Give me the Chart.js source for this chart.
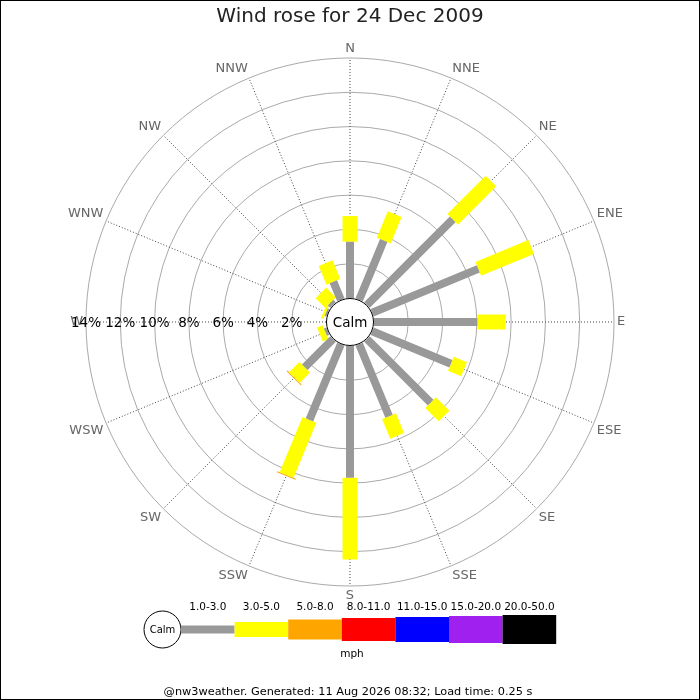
<!DOCTYPE html>
<html>
<head>
<meta charset="utf-8">
<title>Wind rose</title>
<script src="https://cdn.jsdelivr.net/npm/chart.js@4"></script>
<style>
  body { margin: 0; background: #fff; }
  canvas { display: block; }
</style>
</head>
<body>
<canvas id="rose" width="700" height="700"></canvas>
<script>
// wind directions, clockwise from north
const directions = ['N', 'NNE', 'NE', 'ENE', 'E', 'ESE', 'SE', 'SSE', 'S', 'SSW', 'SW', 'WSW', 'W', 'WNW', 'NW', 'NNW'];
const speedBands = ['1.0-3.0', '3.0-5.0', '5.0-8.0', '8.0-11.0', '11.0-15.0', '15.0-20.0', '20.0-50.0'];

// % of time per direction in each speed band (mph)
const pct1to3   = [3.28, 3.74, 7.07, 6.70, 6.03, 4.97, 5.25, 4.55, 7.68, 4.78, 2.33, 0.15, 0, 0.10, 0.20, 1.14];
const pct3to5   = [1.50, 1.67, 3.16, 3.34, 1.65, 0.83, 1.11, 1.24, 4.77, 3.48, 0.85, 0.35, 0, 0.15, 0.80, 1.17];
const pct5to8   = [0, 0, 0, 0, 0, 0, 0, 0, 0, 0.06, 0.06, 0, 0, 0, 0, 0];
const pct8to11  = [0, 0, 0, 0, 0, 0, 0, 0, 0, 0, 0, 0, 0, 0, 0, 0];
const pct11to15 = [0, 0, 0, 0, 0, 0, 0, 0, 0, 0, 0, 0, 0, 0, 0, 0];
const pct15to20 = [0, 0, 0, 0, 0, 0, 0, 0, 0, 0, 0, 0, 0, 0, 0, 0];
const pct20to50 = [0, 0, 0, 0, 0, 0, 0, 0, 0, 0, 0, 0, 0, 0, 0, 0];

const ringTicks = [2, 4, 6, 8, 10, 12, 14];

const bandColors = ['#999999', '#ffff00', '#ffa500', '#ff0000', '#0000ff', '#a020f0', '#000000'];
const bandWidths = [8, 15, 20, 23, 25, 27, 29];

const CALM = 1.4; // calm circle radius, in % units
const FONT = '"DejaVu Sans", sans-serif';

const bands = [pct1to3, pct3to5, pct5to8, pct8to11, pct11to15, pct15to20, pct20to50];
const cum = directions.map(() => CALM);

// one short line dataset per direction and band
const datasets = [];
bands.forEach((vals, b) => {
    directions.forEach((d, i) => {
        const a = i * Math.PI / 8;
        const r0 = cum[i];
        const r1 = r0 + vals[i];
        cum[i] = r1;
        if (vals[i] <= 0) return;
        datasets.push({
            label: d + ' ' + speedBands[b],
            data: [
                {x: r0 * Math.sin(a), y: r0 * Math.cos(a)},
                {x: r1 * Math.sin(a), y: r1 * Math.cos(a)}
            ],
            showLine: true,
            tension: 0.2, // avoids the fast-path pixel snapping on very short segments
            borderColor: bandColors[b],
            borderWidth: bandWidths[b],
            borderCapStyle: 'butt',
            pointRadius: 0,
            clip: false
        });
    });
});

const roseDecor = {
    id: 'roseDecor',
    beforeDatasetsDraw(chart) {
        const ctx = chart.ctx;
        const xs = chart.scales.x, ys = chart.scales.y;
        const cx = xs.getPixelForValue(0), cy = ys.getPixelForValue(0);
        const rad = u => xs.getPixelForValue(u) - cx;

        ctx.save();
        ctx.fillStyle = '#fff';
        ctx.fillRect(0, 0, chart.width, chart.height);

        // rings
        ctx.strokeStyle = '#aaaaaa';
        ctx.lineWidth = 1;
        ringTicks.forEach(t => {
            ctx.beginPath();
            ctx.arc(cx, cy, rad(CALM + t), 0, Math.PI * 2);
            ctx.stroke();
        });

        // spokes
        const outer = rad(CALM + ringTicks[ringTicks.length - 1]);
        ctx.strokeStyle = '#444';
        ctx.setLineDash([1, 2]);
        directions.forEach((d, i) => {
            const a = i * Math.PI / 8;
            ctx.beginPath();
            ctx.moveTo(cx + rad(CALM) * Math.sin(a), cy - rad(CALM) * Math.cos(a));
            ctx.lineTo(cx + outer * Math.sin(a), cy - outer * Math.cos(a));
            ctx.stroke();
        });
        ctx.setLineDash([]);

        // direction labels
        ctx.font = '13px ' + FONT;
        ctx.fillStyle = '#666';
        directions.forEach((d, i) => {
            const a = i * Math.PI / 8;
            const s = Math.sin(a), c = Math.cos(a);
            const r = outer + 3;
            ctx.textAlign = s > 0.01 ? 'left' : (s < -0.01 ? 'right' : 'center');
            ctx.textBaseline = c > 0.01 ? 'bottom' : (c < -0.01 ? 'top' : 'middle');
            ctx.fillText(d, cx + r * s, cy - r * c);
        });
        ctx.restore();
    },
    afterDatasetsDraw(chart) {
        const ctx = chart.ctx;
        const xs = chart.scales.x, ys = chart.scales.y;
        const cx = xs.getPixelForValue(0), cy = ys.getPixelForValue(0);
        const rad = u => xs.getPixelForValue(u) - cx;

        ctx.save();
        // ring labels along the west axis
        ctx.font = '13.5px ' + FONT;
        ctx.fillStyle = '#000';
        ctx.textAlign = 'center';
        ctx.textBaseline = 'middle';
        ringTicks.forEach(t => ctx.fillText(t + '%', cx - rad(CALM + t), cy + 1));

        // calm circle
        ctx.beginPath();
        ctx.arc(cx, cy, rad(CALM) - 0.5, 0, Math.PI * 2);
        ctx.fillStyle = '#fff';
        ctx.fill();
        ctx.strokeStyle = '#000';
        ctx.lineWidth = 1;
        ctx.stroke();
        ctx.fillStyle = '#000';
        ctx.fillText('Calm', cx, cy + 1);

        // title
        ctx.font = '20px ' + FONT;
        ctx.fillStyle = '#222';
        ctx.fillText('Wind rose for 24 Dec 2009', 350, 17);

        // speed legend
        const ly = 629.5;
        ctx.beginPath();
        ctx.arc(162.5, ly, 18.5, 0, Math.PI * 2);
        ctx.fillStyle = '#fff';
        ctx.fill();
        ctx.stroke();
        ctx.fillStyle = '#000';
        ctx.font = '10px ' + FONT;
        ctx.fillText('Calm', 162.5, ly + 1);
        ctx.font = '10.5px ' + FONT;
        speedBands.forEach((b, i) => {
            const x0 = 181 + i * 53.6;
            ctx.fillStyle = bandColors[i];
            ctx.fillRect(x0, ly - bandWidths[i] / 2, 53.6, bandWidths[i]);
            ctx.fillStyle = '#000';
            ctx.fillText(b, x0 + 26.8, 607);
        });
        ctx.fillText('mph', 352, 654);

        // footer
        ctx.font = '11.3px ' + FONT;
        ctx.fillText('@nw3weather. Generated: 11 Aug 2026 08:32; Load time: 0.25 s', 348, 692);

        // frame
        ctx.strokeStyle = '#000';
        ctx.strokeRect(0.5, 0.5, chart.width - 1, chart.height - 1);
        ctx.restore();
    }
};

new Chart(document.getElementById('rose'), {
    type: 'scatter',
    data: { datasets: datasets },
    options: {
        responsive: false,
        animation: false,
        layout: { padding: { left: 75.7, right: 75.7, top: 47.7, bottom: 103.7 } },
        scales: {
            x: { type: 'linear', min: -16, max: 16, display: false },
            y: { type: 'linear', min: -16, max: 16, display: false }
        },
        plugins: {
            legend: { display: false },
            tooltip: { enabled: false }
        }
    },
    plugins: [roseDecor]
});
</script>
</body>
</html>
